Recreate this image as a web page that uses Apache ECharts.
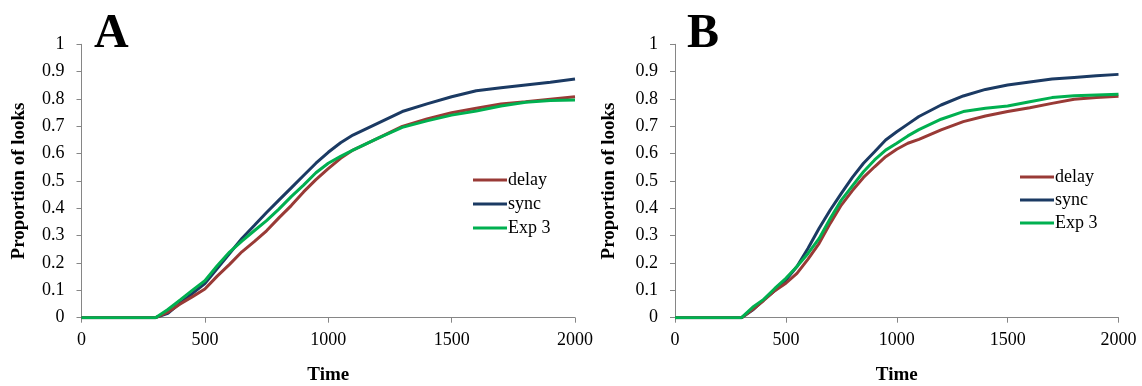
<!DOCTYPE html>
<html>
<head>
<meta charset="utf-8">
<script src="https://cdn.jsdelivr.net/npm/echarts@6/dist/echarts.min.js"></script>
<style>
html,body{margin:0;padding:0;background:#fff;}
#chart{width:1142px;height:386px;}
</style>
</head>
<body>
<div id="chart"></div>
<script>
var timeMs = [0,300,350,400,450,500,550,600,650,700,750,800,850,900,950,1000,1050,1100,1200,1300,1400,1500,1600,1700,1800,1900,2000];
var seriesNames = ['delay','sync','Exp 3'];
var panelLabels = ['A','B'];

var aDelay = [0,0,0.02,0.05,0.077,0.105,0.152,0.195,0.241,0.278,0.318,0.365,0.41,0.46,0.505,0.545,0.583,0.613,0.656,0.700,0.727,0.750,0.766,0.782,0.790,0.799,0.808];
var aSync  = [0,0,0.016,0.053,0.089,0.125,0.18,0.235,0.29,0.337,0.385,0.43,0.475,0.52,0.565,0.605,0.64,0.668,0.711,0.754,0.782,0.808,0.830,0.841,0.851,0.861,0.873];
var aExp3  = [0,0,0.03,0.065,0.101,0.135,0.19,0.24,0.28,0.318,0.355,0.397,0.443,0.485,0.53,0.565,0.59,0.613,0.656,0.696,0.720,0.741,0.756,0.774,0.788,0.794,0.796];

var bDelay = [0,0,0.03,0.063,0.099,0.126,0.162,0.214,0.272,0.345,0.412,0.465,0.513,0.552,0.589,0.616,0.638,0.652,0.687,0.717,0.738,0.754,0.768,0.784,0.799,0.805,0.810];
var bSync  = [0,0,0.028,0.065,0.099,0.138,0.187,0.254,0.327,0.394,0.455,0.513,0.565,0.607,0.650,0.680,0.708,0.736,0.778,0.811,0.835,0.851,0.862,0.873,0.879,0.885,0.890];
var bExp3  = [0,0,0.038,0.067,0.107,0.144,0.187,0.235,0.29,0.363,0.43,0.482,0.534,0.577,0.613,0.638,0.665,0.688,0.726,0.754,0.766,0.774,0.790,0.805,0.812,0.815,0.817];

var colors = ['#993A36','#1B3A63','#00B050'];
var FONT = 'Liberation Serif, Times New Roman, serif';

function pairs(ys){ return timeMs.map(function(t,i){ return [t, ys[i]]; }); }

function makeX(gi){
  return {
    type:'value', gridIndex:gi, min:0, max:2000, interval:500,
    name:'Time', nameLocation:'middle', nameGap:48,
    nameTextStyle:{fontFamily:FONT, fontSize:19, fontWeight:'bold', color:'#000'},
    axisLine:{show:true, lineStyle:{color:'#868686', width:1}},
    axisTick:{show:true, inside:false, length:5, lineStyle:{color:'#868686'}},
    axisLabel:{fontFamily:FONT, fontSize:18, color:'#000', margin:14,
      formatter:function(v){ return String(v); }},
    splitLine:{show:false}
  };
}
function makeY(gi, gap){
  return {
    type:'value', gridIndex:gi, min:0, max:1, interval:0.1,
    name:'Proportion of looks', nameLocation:'middle', nameGap:gap,
    nameTextStyle:{fontFamily:FONT, fontSize:19, fontWeight:'bold', color:'#000'},
    axisLine:{show:true, lineStyle:{color:'#868686', width:1}},
    axisTick:{show:true, inside:false, length:5, lineStyle:{color:'#868686'}},
    axisLabel:{fontFamily:FONT, fontSize:18, color:'#000', margin:17},
    splitLine:{show:false}
  };
}
function line(name, data, gi, color){
  return {
    type:'line', name:name, xAxisIndex:gi, yAxisIndex:gi,
    data:pairs(data), symbol:'none', showSymbol:false, smooth:false,
    lineStyle:{color:color, width:3}, itemStyle:{color:color},
    z: name==='Exp 3' ? 4 : (name==='delay'? 3 : 2)
  };
}
function legend(left, top, gap){
  return {
    orient:'vertical', left:left, top:top, padding:0,
    itemWidth:34, itemHeight:3, itemGap:gap,
    icon:'rect',
    data:seriesNames, selectedMode:false,
    textStyle:{fontFamily:FONT, fontSize:18, color:'#000', lineHeight:18, padding:[0,0,0,-4]}
  };
}

var chart = echarts.init(document.getElementById('chart'), null, {renderer:'canvas'});
chart.setOption({
  animation:false,
  backgroundColor:'#fff',
  grid:[
    {left:81.5, right:567, top:44.3, bottom:68.3, containLabel:false, outerBoundsMode:'none'},
    {left:675, right:23.5, top:44.3, bottom:68.3, containLabel:false, outerBoundsMode:'none'}
  ],
  xAxis:[makeX(0), makeX(1)],
  yAxis:[makeY(0,53), makeY(1,56)],
  legend:[legend(473,171,6), legend(1020,168,5)],
  graphic:[
    {type:'text', left:94, top:11, style:{text:panelLabels[0], font:'bold 48px '+FONT, fill:'#000'}},
    {type:'text', left:687, top:11, style:{text:panelLabels[1], font:'bold 48px '+FONT, fill:'#000'}}
  ],
  series:[
    line(seriesNames[0], aDelay, 0, colors[0]),
    line(seriesNames[1], aSync, 0, colors[1]),
    line(seriesNames[2], aExp3, 0, colors[2]),
    line(seriesNames[0], bDelay, 1, colors[0]),
    line(seriesNames[1], bSync, 1, colors[1]),
    line(seriesNames[2], bExp3, 1, colors[2])
  ]
});
</script>
</body>
</html>
